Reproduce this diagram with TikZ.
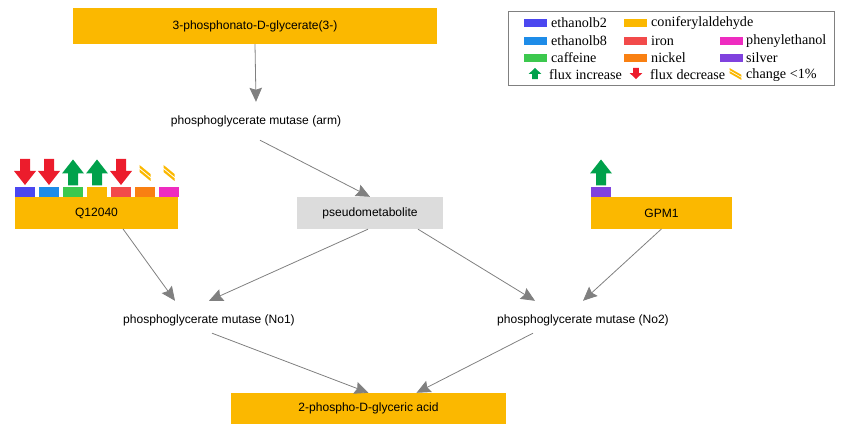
\documentclass[tikz,border=0pt]{standalone}
\usepackage{fontspec}
\setmainfont{Liberation Serif}
\newfontfamily\nodefont{Liberation Sans}
\usepackage{xcolor}
\usepackage{tikz}
\definecolor{pwindigo}{HTML}{4B47F0}
\definecolor{pwsky}{HTML}{1E8CE8}
\definecolor{pwgreen}{HTML}{3CC84E}
\definecolor{pwyellow}{HTML}{FBB800}
\definecolor{pwred}{HTML}{F24A4A}
\definecolor{pworange}{HTML}{F98012}
\definecolor{pwpink}{HTML}{EE2CC0}
\definecolor{pwpurple}{HTML}{8042DE}
\definecolor{pwup}{HTML}{00A14B}
\definecolor{pwdown}{HTML}{EC1C2C}
\definecolor{pwgray}{HTML}{DCDCDC}
\definecolor{pwedge}{HTML}{808080}
\usetikzlibrary{arrows.meta, positioning, calc}

\tikzset{
  metab/.style={rectangle, fill=pwyellow, inner sep=0pt, font=\nodefont\fontsize{12.1}{14}\selectfont},
  pseudo/.style={metab, fill=pwgray},
  enzyme/.style={rectangle, inner sep=0pt, minimum height=38bp, font=\nodefont\fontsize{12.1}{14}\selectfont},
  flux/.style={draw=pwedge, line width=0.8bp, -{Stealth[length=14bp, width=12.5bp, inset=2bp]}},
  swatch/.style={rectangle, inner sep=0pt, minimum width=20bp, minimum height=9.4bp},
  legswatch/.style={rectangle, inner sep=0pt, minimum width=23bp, minimum height=8bp},
  legtext/.style={anchor=west, inner sep=0pt, font=\fontsize{14.2}{16}\selectfont},
  fluxup/.pic={
    \fill[pwup] (0,-13) -- (11,1) -- (5,1) -- (5,13) -- (-5,13) -- (-5,1) -- (-11,1) -- cycle;
  },
  fluxdown/.pic={
    \fill[pwdown] (-5,-13) -- (5,-13) -- (5,-1) -- (11,-1) -- (0,13) -- (-11,-1) -- (-5,-1) -- cycle;
  },
  fluxflat/.pic={
    \fill[pwyellow] (-5.5,-8) -- (5.5,1) -- (5.5,3.8) -- (-5.5,-5.2) -- cycle;
    \fill[pwyellow] (-5.5,-3.8) -- (5.5,5.2) -- (5.5,8) -- (-5.5,-1) -- cycle;
  }
}

\begin{document}
\begin{tikzpicture}[x=1bp, y=-1bp]
\useasboundingbox (0,0) rectangle (845,434);

% metabolites and enzymes
\node[metab, minimum width=364bp, minimum height=36bp] (top) at (255,26) {3-phosphonato-D-glycerate(3-)};
\node[enzyme] (arm) at (256,121) {phosphoglycerate mutase (arm)};
\node[metab, minimum width=163bp, minimum height=31.4bp] (q12040) at (96.5,213) {Q12040};
\node[pseudo, minimum width=146bp, minimum height=32bp] (pseudo) at (370,213) {pseudometabolite};
\node[metab, minimum width=141bp, minimum height=31.4bp] (gpm1) at (661.5,213) {GPM1};
\node[enzyme] (no1) at (209,320) {phosphoglycerate mutase (No1)};
\node[enzyme] (no2) at (583,320) {phosphoglycerate mutase (No2)};
\node[metab, minimum width=275bp, minimum height=31bp] (bottom) at (368.5,408.5) {2-phospho-D-glyceric acid};

% experiment bars
\foreach \col [count=\i from 0] in {pwindigo, pwsky, pwgreen, pwyellow, pwred, pworange, pwpink}
  \node[swatch, fill=\col] (qsq\i) at ({25+24*\i},192) {};
\node[swatch, fill=pwpurple] (gsq0) at (601,192) {};
\foreach \i in {0,1,4}
  \pic at ({25+24*\i},172) {fluxdown};
\foreach \i in {2,3}
  \pic at ({25+24*\i},172.5) {fluxup};
\foreach \i in {5,6}
  \pic at ({25+24*\i},173) {fluxflat};
\pic at (601,172.5) {fluxup};

% reactions
\draw[flux] (top.south) -- (arm.north);
\draw[flux] ([xshift=4bp]arm.south) -- (pseudo.north);
\draw[flux] ([xshift=26.5bp]q12040.south) -- ([xshift=-34bp]no1.north);
\draw[flux] ([xshift=-2bp]pseudo.south) -- (no1.north);
\draw[flux] ([xshift=48bp]pseudo.south) -- ([xshift=-48bp]no2.north);
\draw[flux] (gpm1.south) -- (no2.north);
\draw[flux] ([xshift=3bp, yshift=6bp]no1.south) -- (bottom.north);
\draw[flux] ([xshift=-50bp, yshift=6bp]no2.south) -- ([xshift=48bp]bottom.north);

% legend
\node[draw=pwedge, line width=0.8bp, minimum width=326bp, minimum height=74bp, inner sep=0pt] (legend) at (671,48) {};
\node[legswatch, fill=pwindigo] (lgb2) at (535.5,23) {};
\node[legswatch, fill=pwsky] (lgb8) at (535.5,41) {};
\node[legswatch, fill=pwgreen] (lgcaf) at (535.5,58) {};
\node[legswatch, fill=pwyellow] (lgcon) at (635.5,23) {};
\node[legswatch, fill=pwred] (lgiron) at (635.5,41) {};
\node[legswatch, fill=pworange] (lgnick) at (635.5,58) {};
\node[legswatch, fill=pwpink] (lgphen) at (731.5,41) {};
\node[legswatch, fill=pwpurple] (lgsilv) at (731.5,58) {};
\node[legtext] (tb2) at (551,23) {ethanolb2};
\node[legtext] (tb8) at (551,41) {ethanolb8};
\node[legtext] (tcaf) at (551,58) {caffeine};
\node[legtext] (tcon) at (651,23) {coniferylaldehyde};
\node[legtext] (tiron) at (651,41) {iron};
\node[legtext] (tnick) at (651,58) {nickel};
\node[legtext] (tphen) at (746,41) {phenylethanol};
\node[legtext] (tsilv) at (746,58) {silver};
\pic[xscale=0.57, yscale=0.43] at (535,73.5) {fluxup};
\pic[xscale=0.57, yscale=0.43] at (636,73.5) {fluxdown};
\pic[xscale=1.05, yscale=0.73] at (735.5,74) {fluxflat};
\node[legtext] (tup) at (549,75) {flux increase};
\node[legtext] (tdown) at (650,75) {flux decrease};
\node[legtext] (tflat) at (746,75) {change <1\%};
\end{tikzpicture}
\end{document}
